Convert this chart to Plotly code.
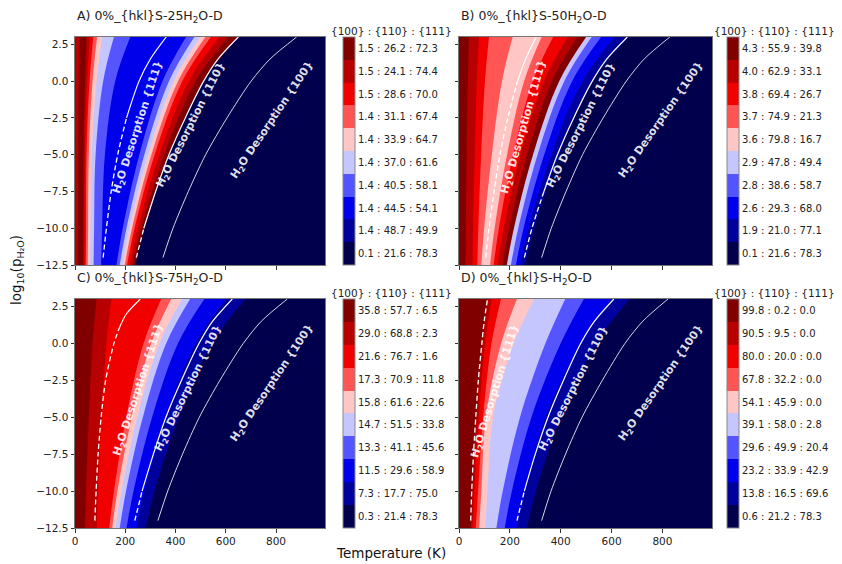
import plotly.graph_objects as go

# ---------------- data ----------------
Y_LEVELS = [3, 0, -5, -10, -12.5]          # log10(p_H2O) rows where band edges were read
LINE_Y = [-12, -10, -7.5, -5, -2.5, 0, 1.5, 3]
LINE_Y_C111 = [-12, -10, -7.5, -5, -2.5, 0, 1.1, 2, 3]
T_MAX = 995

X_TICKS = [0, 200, 400, 600, 800]
Y_TICKS = [2.5, 0, -2.5, -5, -7.5, -10, -12.5]
Y_TICKTEXT = ["2.5", "0.0", "\u22122.5", "\u22125.0", "\u22127.5", "\u221210.0", "\u221212.5"]

TITLES = ["A) 0%_{hkl}S-25H<sub>2</sub>O-D", "B) 0%_{hkl}S-50H<sub>2</sub>O-D",
          "C) 0%_{hkl}S-75H<sub>2</sub>O-D", "D) 0%_{hkl}S-H<sub>2</sub>O-D"]

A_CB = ["0.1 : 21.6 : 78.3", "1.4 : 48.7 : 49.9", "1.4 : 44.5 : 54.1", "1.4 : 40.5 : 58.1",
        "1.4 : 37.0 : 61.6", "1.4 : 33.9 : 64.7", "1.4 : 31.1 : 67.4", "1.5 : 28.6 : 70.0",
        "1.5 : 24.1 : 74.4", "1.5 : 26.2 : 72.3"]
B_CB = ["0.1 : 21.6 : 78.3", "1.9 : 21.0 : 77.1", "2.6 : 29.3 : 68.0", "2.8 : 38.6 : 58.7",
        "2.9 : 47.8 : 49.4", "3.6 : 79.8 : 16.7", "3.7 : 74.9 : 21.3", "3.8 : 69.4 : 26.7",
        "4.0 : 62.9 : 33.1", "4.3 : 55.9 : 39.8"]
C_CB = ["0.3 : 21.4 : 78.3", "7.3 : 17.7 : 75.0", "11.5 : 29.6 : 58.9", "13.3 : 41.1 : 45.6",
        "14.7 : 51.5 : 33.8", "15.8 : 61.6 : 22.6", "17.3 : 70.9 : 11.8", "21.6 : 76.7 : 1.6",
        "29.0 : 68.8 : 2.3", "35.8 : 57.7 : 6.5"]
D_CB = ["0.6 : 21.2 : 78.3", "13.8 : 16.5 : 69.6", "23.2 : 33.9 : 42.9", "29.6 : 49.9 : 20.4",
        "39.1 : 58.0 : 2.8", "54.1 : 45.9 : 0.0", "67.8 : 32.2 : 0.0", "80.0 : 20.0 : 0.0",
        "90.5 : 9.5 : 0.0", "99.8 : 0.2 : 0.0"]

# contour level of each band, left to right, and the temperature of each band's right edge
A_BANDS = [8, 9, 8, 7, 6, 5, 4, 3, 2, 3, 4, 5, 6, 7, 8, 9, 0]
A_EDGES = [
    [17, 15, 13, 12, 11], [46, 40, 34, 33, 32], [59, 48, 40, 38, 37], [73, 58, 46, 44, 43],
    [88, 70, 55, 52, 51], [108, 86, 66, 61, 60], [155, 112, 82, 76, 74],
    [220, 160, 119, 108, 104],
    [442, 348, 256, 190, 165], [475, 374, 276, 205, 178], [498, 393, 291, 217, 189],
    [519, 410, 304, 227, 198], [541, 427, 317, 237, 207], [574, 453, 335, 250, 218],
    [610, 480, 355, 263, 229], [650, 511, 375, 277, 240],
]
B_BANDS = [9, 8, 7, 6, 5, 6, 7, 8, 9, 4, 3, 2, 1, 0]
B_EDGES = [
    [39, 35, 30, 27, 26], [79, 70, 62, 55, 53], [118, 102, 87, 76, 72],
    [211, 169, 129, 99, 88], [325, 256, 189, 140, 122], [370, 290, 213, 157, 136],
    [428, 334, 242, 176, 151], [465, 365, 268, 197, 171], [500, 394, 291, 216, 188],
    [522, 414, 309, 233, 204], [559, 445, 335, 254, 224], [612, 486, 363, 274, 241],
    [665, 527, 394, 296, 260],
]
C_BANDS = [9, 8, 7, 6, 5, 4, 3, 2, 1, 0]
C_EDGES = [
    [86, 70, 55, 44, 40], [145, 125, 105, 91, 86], [343, 273, 204, 155, 136],
    [383, 303, 226, 169, 148], [426, 336, 248, 185, 161], [458, 363, 270, 203, 178],
    [515, 410, 307, 233, 205], [601, 480, 362, 276, 244], [680, 544, 413, 317, 281],
]
D_BANDS = [9, 8, 7, 6, 5, 4, 3, 2, 1, 0]
D_EDGES = [
    [112, 90, 68, 52, 46], [129, 103, 78, 60, 53], [165, 128, 95, 75, 66],
    [228, 166, 106, 88, 79], [296, 215, 134, 112, 103], [418, 340, 240, 172, 147],
    [491, 400, 285, 208, 180], [599, 480, 340, 260, 226], [671, 540, 400, 303, 267],
]

# desorption lines (temperature at LINE_Y)
A_111 = [112, 125, 144, 170, 205, 255, 300, 363]
A_110 = [244, 274, 321, 374, 439, 512, 569, 650]
A_100 = [350, 390, 451, 520, 605, 701, 776, 882]
B_111 = [105, 118, 138, 161, 192, 230, 262, 303]
B_110 = [257, 287, 334, 387, 451, 524, 581, 662]
B_100 = [325, 363, 421, 486, 567, 658, 728, 829]
C_111 = [79, 84, 92, 104, 122, 155, 178, 205, 260]
C_110 = [238, 267, 312, 362, 424, 494, 548, 626]
C_100 = [330, 369, 428, 495, 577, 670, 742, 845]
D_111 = [46, 50, 57, 66, 76, 90, 99, 112]
D_110 = [228, 257, 300, 350, 411, 479, 533, 609]
D_100 = [325, 362, 419, 484, 564, 653, 723, 822]

# label positions (T, log p, angle)
A_LAB = [(250, -3.1, 72), (462, -3.0, 63), (785, -2.65, 56)]
B_LAB = [(256, -3.15, 74), (482, -3.0, 63), (795, -2.65, 55)]
C_LAB = [(251, -3.14, 72), (452, -3.03, 64), (785, -2.7, 56)]
D_LAB = [(141, -3.2, 73), (452, -3.03, 63), (795, -2.7, 55)]

# ---------------- style ----------------
W, H = 842, 564
OFF = 8          # the page body margin shifts the figure by this many pixels
FONT = "DejaVu Sans"
SEISMIC = ["rgb(0,0,77)", "rgb(0,0,156)", "rgb(0,0,235)", "rgb(85,85,255)", "rgb(198,198,255)",
           "rgb(255,198,198)", "rgb(255,85,85)", "rgb(241,0,0)", "rgb(184,0,0)", "rgb(128,0,0)"]
colorscale = []
for i, c in enumerate(SEISMIC):
    colorscale += [[i / 10, c], [(i + 1) / 10, c]]


def px_x(p):
    return (p - OFF) / W


def px_y(p):
    return 1 - (p - OFF) / H


panels = [
    dict(bands=A_BANDS, edges=A_EDGES, lines=(A_111, A_110, A_100), ly111=LINE_Y, lab=A_LAB,
         cb=A_CB, xd=(75, 325), yd=(37, 265), split=(-2.5, -10), cbx=343, cbt=391),
    dict(bands=B_BANDS, edges=B_EDGES, lines=(B_111, B_110, B_100), ly111=LINE_Y, lab=B_LAB,
         cb=B_CB, xd=(459, 712), yd=(37, 265), split=(0, -7.5), cbx=727, cbt=774),
    dict(bands=C_BANDS, edges=C_EDGES, lines=(C_111, C_110, C_100), ly111=LINE_Y_C111, lab=C_LAB,
         cb=C_CB, xd=(75, 325), yd=(299, 528), split=(1.1, -10), cbx=343, cbt=391),
    dict(bands=D_BANDS, edges=D_EDGES, lines=(D_111, D_110, D_100), ly111=LINE_Y, lab=D_LAB,
         cb=D_CB, xd=(459, 712), yd=(299, 528), split=(3, -10), cbx=727, cbt=774),
]

fig = go.Figure()
annotations = []
layout = dict(width=W, height=H, margin=dict(l=0, r=0, t=0, b=0, autoexpand=False),
              paper_bgcolor="white", plot_bgcolor=SEISMIC[0], showlegend=False,
              font=dict(family=FONT, color="#222"))

for k, p in enumerate(panels):
    n = k + 1
    xa = "x" if n == 1 else f"x{n}"
    ya = "y" if n == 1 else f"y{n}"
    xkey = "xaxis" if n == 1 else f"xaxis{n}"
    ykey = "yaxis" if n == 1 else f"yaxis{n}"
    ca = "coloraxis" if n == 1 else f"coloraxis{n}"

    # bands: paint from the rightmost one to the leftmost
    nb = len(p["bands"])
    for i in range(nb - 1, -1, -1):
        right = p["edges"][i] if i < nb - 1 else [T_MAX] * len(Y_LEVELS)
        fig.add_trace(go.Scatter(x=right, y=Y_LEVELS, mode="lines", fill="tozerox",
                                 fillcolor=SEISMIC[p["bands"][i]],
                                 line=dict(width=0, shape="spline", smoothing=1),
                                 xaxis=xa, yaxis=ya, hoverinfo="skip"))

    # desorption lines
    l111, l110, l100 = p["lines"]
    for tvals, yvals, sp in ((l111, p["ly111"], p["split"][0]), (l110, LINE_Y, p["split"][1])):
        lo = [(t, y) for t, y in zip(tvals, yvals) if y <= sp]
        hi = [(t, y) for t, y in zip(tvals, yvals) if y >= sp]
        if len(lo) > 1:
            fig.add_trace(go.Scatter(x=[a for a, _ in lo], y=[b for _, b in lo], mode="lines",
                                     line=dict(color="white", width=1.3, dash="5px,3px",
                                               shape="spline", smoothing=0.8),
                                     xaxis=xa, yaxis=ya, hoverinfo="skip"))
        if len(hi) > 1:
            fig.add_trace(go.Scatter(x=[a for a, _ in hi], y=[b for _, b in hi], mode="lines",
                                     line=dict(color="white", width=1.2,
                                               shape="spline", smoothing=0.8),
                                     xaxis=xa, yaxis=ya, hoverinfo="skip"))
    fig.add_trace(go.Scatter(x=l100, y=LINE_Y, mode="lines",
                             line=dict(color="rgba(235,235,245,0.9)", width=1,
                                       shape="spline", smoothing=0.8),
                             xaxis=xa, yaxis=ya, hoverinfo="skip"))

    # colorbar carrier
    fig.add_trace(go.Scatter(x=[-500], y=[-50], mode="markers",
                             marker=dict(color=[0], coloraxis=ca, size=1, opacity=0),
                             xaxis=xa, yaxis=ya, hoverinfo="skip"))

    x0, x1 = p["xd"]
    y0, y1 = p["yd"]
    left_col = n in (1, 3)
    bottom_row = n in (3, 4)
    axis_common = dict(showline=True, mirror=True, linecolor="#777", linewidth=1,
                       ticks="outside", ticklen=3.5, tickcolor="#333", tickwidth=1,
                       showgrid=False, zeroline=False,
                       tickfont=dict(family=FONT, size=10.5, color="#222"))
    layout[xkey] = dict(domain=[px_x(x0), px_x(x1)], range=[0, T_MAX], anchor=ya,
                        tickvals=X_TICKS, ticktext=[str(v) for v in X_TICKS],
                        showticklabels=bottom_row, **axis_common)
    layout[ykey] = dict(domain=[px_y(y1), px_y(y0)], range=[-12.5, 3], anchor=xa,
                        tickvals=Y_TICKS, ticktext=Y_TICKTEXT,
                        showticklabels=left_col, **axis_common)
    layout[ca] = dict(colorscale=colorscale, cmin=0, cmax=10,
                      colorbar=dict(x=px_x(p["cbx"]), xanchor="left", xpad=0, ypad=0,
                                    thickness=12, thicknessmode="pixels",
                                    len=(y1 - y0) / H, lenmode="fraction",
                                    y=px_y((y0 + y1) / 2), yanchor="middle",
                                    tickvals=[i + 0.5 for i in range(10)], ticktext=p["cb"],
                                    ticks="", outlinewidth=1, outlinecolor="#888",
                                    tickfont=dict(family=FONT, size=10, color="#222")))

    # panel title
    annotations.append(dict(text=TITLES[k], x=px_x(x0), y=px_y(y0 - 21), xref="paper",
                            yref="paper", xanchor="left", yanchor="middle", showarrow=False,
                            font=dict(family=FONT, size=12.5, color="#222")))
    # colorbar title
    annotations.append(dict(text="{100} : {110} : {111}", x=px_x(p["cbt"]),
                            y=px_y(y0 - 6), xref="paper", yref="paper", xanchor="center",
                            yanchor="middle", showarrow=False,
                            font=dict(family=FONT, size=10.5, color="#222")))
    # desorption labels
    for (t, yv, ang), face in zip(p["lab"], ("{111}", "{110}", "{100}")):
        annotations.append(dict(text=f"<b>H<sub>2</sub>O Desorption {face}</b>", x=t, y=yv,
                                xref=xa, yref=ya, xanchor="center", yanchor="middle",
                                textangle=-ang, showarrow=False,
                                font=dict(family=FONT, size=11, color="rgba(255,255,255,0.88)")))

annotations.append(dict(text="Temperature (K)", x=px_x(391), y=px_y(553), xref="paper",
                        yref="paper", xanchor="center", yanchor="middle", showarrow=False,
                        font=dict(family=FONT, size=13.5, color="#111")))
annotations.append(dict(text="log<sub>10</sub>(p<sub>H\u2082O</sub>)", x=px_x(17), y=px_y(270),
                        xref="paper", yref="paper", xanchor="center", yanchor="middle",
                        textangle=-90, showarrow=False,
                        font=dict(family=FONT, size=13.5, color="#111")))

layout["annotations"] = annotations
fig.update_layout(**layout)
fig.write_html("out.html")
